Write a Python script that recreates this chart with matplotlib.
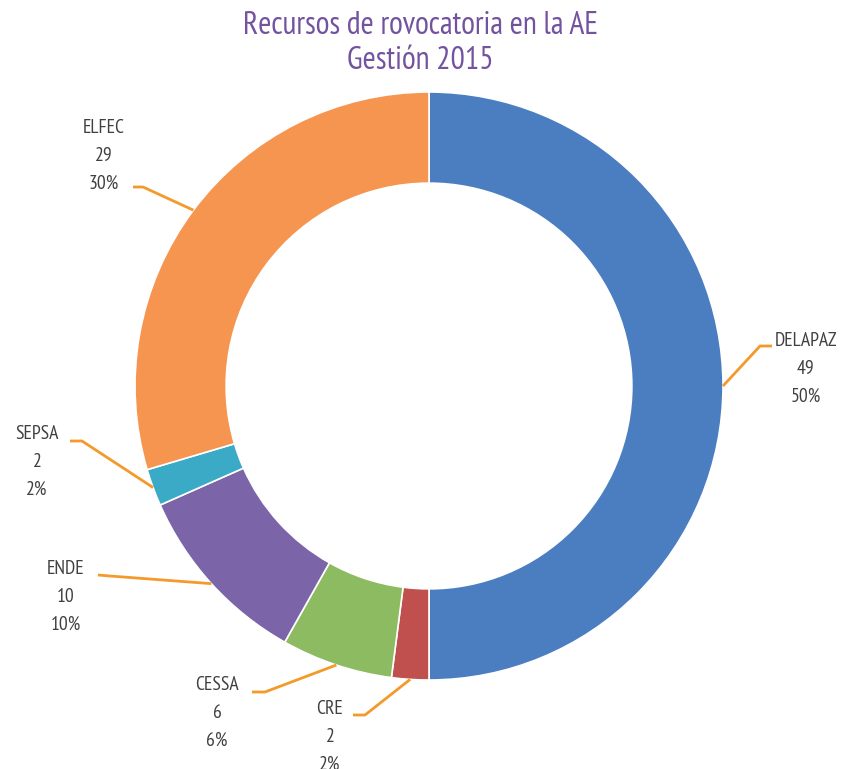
import matplotlib
matplotlib.use("Agg")
import matplotlib.pyplot as plt
import numpy as np
from matplotlib import font_manager

names = ["DELAPAZ", "CRE", "CESSA", "ENDE", "SEPSA", "ELFEC"]
values = [49, 2, 6, 10, 2, 29]
percents = ["50%", "2%", "6%", "10%", "2%", "30%"]
colors = ["#4A7EC0", "#C0504D", "#8DBB62", "#7B64A8", "#3BAAC6", "#F69550"]
title_lines = ["Recursos de rovocatoria en la AE", "Gestión 2015"]

# layout (pixel coords, y down)
W, H = 841, 769
cx, cy = 429, 386
R = 294
width_frac = 0.31
line_gap = 28
label_pos = {  # name-line centre, leader knee, leader start
    "DELAPAZ": ((806, 341), (760, 346), (772, 346)),
    "CRE": ((330, 709), (365, 715), (353, 715)),
    "CESSA": ((217, 685), (265, 692), (252, 692)),
    "ENDE": ((66, 569), (110, 576), (98, 575)),
    "SEPSA": ((37, 434), (82, 441), (70, 441)),
    "ELFEC": ((104, 128), (143, 187), (133, 187)),
}

avail = {f.name for f in font_manager.fontManager.ttflist}
fam = "Open Sans"
for cand in ["PT Sans Narrow", "Fira Sans Condensed", "Roboto Condensed",
             "Archivo Narrow", "Asap Condensed", "Encode Sans Condensed",
             "Open Sans Condensed", "Liberation Sans Narrow"]:
    if cand in avail:
        fam = cand
        break

fig = plt.figure(figsize=(W / 100, H / 100), dpi=100)
ax = fig.add_axes([0, 0, 1, 1])

wedges, _ = ax.pie(values, colors=colors, startangle=90, counterclock=False,
                   radius=R, center=(cx, H - cy), frame=True,
                   wedgeprops=dict(width=R * width_frac, edgecolor="white", linewidth=1.2))
ax.set_xlim(0, W)
ax.set_ylim(0, H)
ax.set_aspect("equal")
ax.axis("off")

renderer = fig.canvas.get_renderer()


def fit_size(s, target_px, base=12):
    t = fig.text(0, 0, s, fontsize=base, family=fam)
    wpx = t.get_window_extent(renderer).width
    t.remove()
    return base * target_px / wpx


lab_fs = fit_size("DELAPAZ", 63)
tit_fs = fit_size(title_lines[0], 357)

lc = "#F39A2B"
for w, n, v, p in zip(wedges, names, values, percents):
    ang = np.deg2rad((w.theta1 + w.theta2) / 2)
    ex = cx + R * np.cos(ang)
    ey = (H - cy) + R * np.sin(ang)
    (tx, ty), (kx, ky), (sx, sy) = label_pos[n]
    ax.plot([sx, kx, ex], [H - sy, H - ky, ey], color=lc, lw=2, solid_capstyle="butt")
    for i, s in enumerate([n, str(v), p]):
        ax.text(tx, H - ty - i * line_gap, s, ha="center", va="center",
                fontsize=lab_fs, color="#404040", family=fam)

fig.text(0.5, 1 - 26 / H, title_lines[0], ha="center", va="center",
         fontsize=tit_fs, color="#7352A0", family=fam)
fig.text(0.5, 1 - 61 / H, title_lines[1], ha="center", va="center",
         fontsize=tit_fs, color="#7352A0", family=fam)

fig.savefig("out.png", dpi=100, facecolor="white")
